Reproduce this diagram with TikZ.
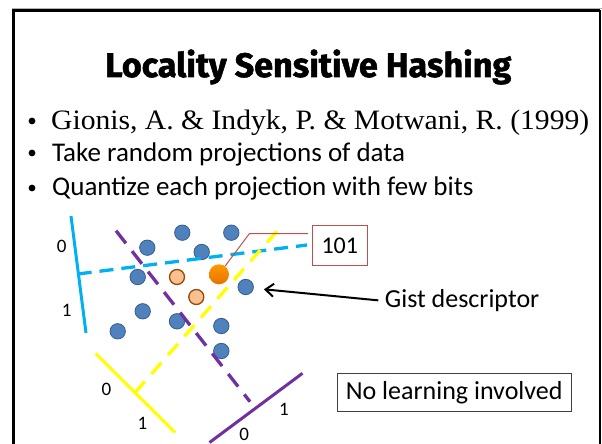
\documentclass[tikz,border=0pt]{standalone}
\usepackage{fontspec}
\setmainfont{Liberation Serif}
\newfontfamily\calib{Carlito}
\newfontfamily\titlef[BoldFeatures={FakeBold=1.6}]{Fira Sans}
\usetikzlibrary{arrows.meta}
\definecolor{cyanL}{HTML}{00B0F0}
\definecolor{purpleL}{HTML}{7030A0}
\definecolor{yellowL}{HTML}{FFFF00}
\definecolor{dotfill}{HTML}{4F81BD}
\definecolor{dotdraw}{HTML}{385D8A}
\definecolor{lofill}{HTML}{FAC090}
\definecolor{lodraw}{HTML}{984807}
\definecolor{boxred}{HTML}{C0504D}
\tikzset{
  bluedot/.style={circle,fill=dotfill,draw=dotdraw,line width=0.8pt,minimum size=15.4pt,inner sep=0},
  orangedot/.style={circle,fill=lofill,draw=lodraw,line width=1.3pt,minimum size=15pt,inner sep=0},
  bigdot/.style={circle,top color=orange!80!yellow,bottom color=orange!90!black,draw=none,minimum size=20pt,inner sep=0},
  axisline/.style={line width=3pt},
  dashline/.style={line width=3.3pt},
  lbl/.style={font=\calib\fontsize{19}{22}\selectfont,inner sep=0},
  bul/.style={fill=black},
  bultext/.style={anchor=base west,inner sep=0,font=\calib\fontsize{27}{32}\selectfont},
}
\begin{document}
\begin{tikzpicture}[x=1pt,y=-1pt]
\useasboundingbox (0,0) rectangle (602,444);
\fill[white] (0,0) rectangle (602,444);
% frame
\draw[gray!60,line width=1pt] (12,8.5) -- (602,8.5);
\draw[black,line width=3pt] (13.5,445) -- (13.5,10.5) -- (599.5,10.5);
\draw[black,line width=2pt] (599.5,10.5) -- (599.5,445);
% title
\node[anchor=base west,inner sep=0] (title) at (105,77)
  {\resizebox{406pt}{27.5pt}{\titlef\bfseries Locality Sensitive Hashing}};
% bullets
\fill[bul] (32,121) circle[radius=3.4pt];
\fill[bul] (32,153) circle[radius=3.4pt];
\fill[bul] (32,188) circle[radius=3.4pt];
\node[anchor=base west,inner sep=0] (b1) at (51,129)
  {\resizebox{538pt}{19.5pt}{\fontsize{28}{32}\selectfont Gionis, A. \& Indyk, P. \& Motwani, R. (1999)}};
\node[bultext] (b2) at (52,161) {Take random projections of data};
\node[bultext] (b3) at (52,195.5) {Quantize each projection with few bits};
% solid axes
\draw[cyanL,axisline] (71,216) -- (86,333);
\draw[yellowL,axisline] (95.7,353.5) -- (175,432.5);
\draw[purpleL,axisline] (209.5,442.5) -- (302.5,373.3);
% dots
\node[bluedot] (d1) at (182.3,232.7) {};
\node[bluedot] (d2) at (231.3,232.7) {};
\node[bluedot] (d3) at (147.3,247.7) {};
\node[bluedot] (d4) at (201.7,252) {};
\node[bluedot] (d5) at (137.7,277) {};
\node[bluedot] (d6) at (245.7,287) {};
\node[bluedot] (d7) at (142.7,311.3) {};
\node[bluedot] (d8) at (177,321.3) {};
\node[bluedot] (d9) at (117.7,331.3) {};
\node[bluedot] (d10) at (221.3,326) {};
\node[bluedot] (d11) at (221.3,351) {};
\node[orangedot] (o1) at (177,277) {};
\node[orangedot] (o2) at (196.3,297) {};
% dashed projections
\draw[cyanL,dashline,dash pattern=on 14pt off 8pt] (77.7,274) -- (307,245);
\draw[purpleL,dashline,dash pattern=on 16pt off 10pt] (116,230.7) -- (250,401.7);
\draw[yellowL,dashline,dash pattern=on 15pt off 10pt] (135,392.7) -- (277.3,230.7);
% big orange point
\node[bigdot] (big) at (219,274.3) {};
% labels
\node[lbl] (c0) at (61.7,246.7) {0};
\node[lbl] (c1) at (66.7,310) {1};
\node[lbl] (y0) at (106.5,389.3) {0};
\node[lbl] (y1) at (142.5,423.5) {1};
\node[lbl] (p0) at (244.3,434.5) {0};
\node[lbl] (p1) at (284,409) {1};
% code box
\node[draw=boxred,line width=1pt,minimum width=55pt,minimum height=39.3pt,inner sep=0,
      font=\calib\fontsize{24}{28}\selectfont] (code) at (339.8,245.4) {101};
\coordinate (bend) at (249.3,233.7);
\draw[boxred,line width=1pt,shorten >=3.6pt] (big) -- (bend) -- (code.west |- bend);
% gist descriptor
\node[anchor=base west,inner sep=0,outer xsep=6.6pt,font=\calib\fontsize{26}{30}\selectfont] (gist) at (378.3,307.3) {Gist descriptor};
\coordinate (gisttip) at (264,289.3);
\draw[line width=2pt,-{Straight Barb[length=8pt,width=13pt]}] (gist.west) -- (gisttip);
% no learning box
\node[draw=black!75,line width=1pt,minimum width=233.7pt,minimum height=38pt,inner sep=0,
      font=\calib\fontsize{26}{30}\selectfont] (nolearn) at (454.2,392.3) {No learning involved};
\end{tikzpicture}
\end{document}
